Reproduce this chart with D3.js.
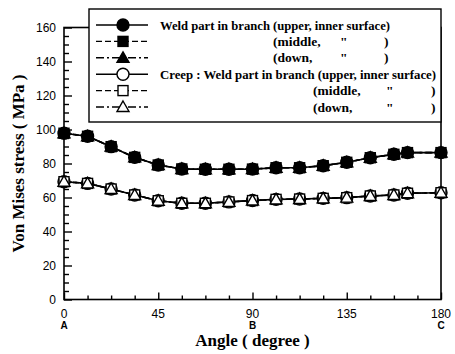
<!DOCTYPE html>
<html>
<head>
<meta charset="utf-8">
<script src="https://cdn.jsdelivr.net/npm/d3@7"></script>
<style>
  body { margin: 0; background: #fff; }
  svg { display: block; }
</style>
</head>
<body>
<svg id="chart" width="455" height="354"></svg>
<script>
// data
const angles = [0, 11.25, 22.5, 33.75, 45, 56.25, 67.5, 78.75, 90, 101.25, 112.5, 123.75, 135, 146.25, 157.5, 164, 180];
const weldUpper  = [97.8, 96.0, 89.9, 83.6, 79.1, 76.8, 76.6, 76.6, 76.7, 77.5, 77.5, 78.7, 80.7, 83.4, 85.4, 86.4, 86.4];
const weldMiddle = [97.8, 96.0, 89.9, 83.6, 79.1, 76.8, 76.6, 76.6, 76.7, 77.5, 77.5, 78.7, 80.7, 83.4, 85.4, 86.4, 86.4];
const weldDown   = [97.8, 96.0, 89.9, 83.6, 79.1, 76.8, 76.6, 76.6, 76.7, 77.5, 77.5, 78.7, 80.7, 83.4, 85.4, 86.4, 86.4];
const creepUpper  = [69.3, 68.3, 65.0, 61.5, 58.1, 56.6, 56.6, 57.4, 58.2, 58.9, 59.1, 59.5, 59.9, 60.9, 61.5, 62.5, 62.8];
const creepMiddle = [69.3, 68.3, 65.0, 61.5, 58.1, 56.6, 56.6, 57.4, 58.2, 58.9, 59.1, 59.5, 59.9, 60.9, 61.5, 62.5, 62.8];
const creepDown   = [69.3, 68.3, 65.0, 61.5, 58.1, 56.6, 56.6, 57.4, 58.2, 58.9, 59.1, 59.5, 59.9, 60.9, 61.5, 62.5, 62.8];

const xTickLabels = [0, 45, 90, 135, 180];
const xPointNames = ['A', '', 'B', '', 'C'];
const yTickLabels = [0, 20, 40, 60, 80, 100, 120, 140, 160];

const series = [
  { values: weldUpper,   shape: 'circle',   filled: true,  dash: null },
  { values: weldMiddle,  shape: 'square',   filled: true,  dash: '6,3' },
  { values: weldDown,    shape: 'triangle', filled: true,  dash: '8,3,2,3' },
  { values: creepUpper,  shape: 'circle',   filled: false, dash: null },
  { values: creepMiddle, shape: 'square',   filled: false, dash: '6,3' },
  { values: creepDown,   shape: 'triangle', filled: false, dash: '8,3,2,3' }
];

const svg = d3.select('#chart');
const pLeft = 64, pRight = 441, pTop = 27.5, pBottom = 299.5;

const x = d3.scaleLinear().domain([0, 180]).range([pLeft, pRight]);
const y = d3.scaleLinear().domain([0, 160]).range([pBottom, pTop]);

const tickFont = '"Liberation Sans Narrow", "Arial Narrow", Arial, sans-serif';
const serif = '"Liberation Serif", "Times New Roman", serif';

// frame
svg.append('rect')
  .attr('x', pLeft).attr('y', pTop)
  .attr('width', pRight - pLeft).attr('height', pBottom - pTop)
  .attr('fill', 'none').attr('stroke', '#000').attr('stroke-width', 1.6);

// y axis, ticks pointing inwards
const yAxis = svg.append('g').attr('transform', `translate(${pLeft},0)`);
yAxis.call(d3.axisRight(y).tickValues(d3.range(0, 161, 5)).tickSize(5).tickFormat(''))
  .call(g => g.select('.domain').remove());
yAxis.selectAll('.tick line')
  .attr('stroke-width', 1.4)
  .attr('x2', d => d % 20 === 0 ? 8 : 5);
yAxis.selectAll('.ylab').data(yTickLabels).enter().append('text')
  .attr('x', -8).attr('y', d => y(d) + 4)
  .attr('text-anchor', 'end').attr('fill', '#000')
  .style('font-family', tickFont).style('font-size', '12px')
  .text(d => d);

// x axis
const xAxis = svg.append('g').attr('transform', `translate(0,${pBottom})`);
xAxis.call(d3.axisTop(x).tickValues(d3.range(0, 181, 11.25)).tickSize(4).tickFormat(''))
  .call(g => g.select('.domain').remove());
xAxis.selectAll('.tick line')
  .attr('stroke-width', 1.4)
  .attr('y2', d => d % 45 === 0 ? -7 : -4);
xAxis.selectAll('.xlab').data(xTickLabels).enter().append('text')
  .attr('x', d => x(d)).attr('y', 18)
  .attr('text-anchor', 'middle').attr('fill', '#000')
  .style('font-family', tickFont).style('font-size', '12px')
  .text(d => d);
xAxis.selectAll('.xname').data(xTickLabels).enter().append('text')
  .attr('x', d => x(d)).attr('y', 29)
  .attr('text-anchor', 'middle').attr('fill', '#000')
  .style('font-family', 'Arial, "Liberation Sans", sans-serif')
  .style('font-size', '10px').style('font-weight', 'bold')
  .text((d, i) => xPointNames[i]);

// axis titles
svg.append('text')
  .attr('x', (pLeft + pRight) / 2).attr('y', 346)
  .attr('text-anchor', 'middle')
  .style('font-family', serif).style('font-size', '17px').style('font-weight', 'bold')
  .text('Angle ( degree )');
svg.append('text')
  .attr('transform', `translate(24,${(pTop + pBottom) / 2}) rotate(-90)`)
  .attr('text-anchor', 'middle')
  .style('font-family', serif).style('font-size', '17px').style('font-weight', 'bold')
  .text('Von Mises stress ( MPa )');

const marker = (g, shape, filled, cx, cy) => {
  const fill = filled ? '#000' : '#fff';
  if (shape === 'circle') {
    g.append('circle').attr('cx', cx).attr('cy', cy).attr('r', 6)
      .attr('fill', fill).attr('stroke', '#000').attr('stroke-width', 1.4);
  } else if (shape === 'square') {
    g.append('rect').attr('x', cx - 5).attr('y', cy - 5).attr('width', 10).attr('height', 10)
      .attr('fill', fill).attr('stroke', '#000').attr('stroke-width', 1.4);
  } else {
    g.append('path').attr('d', `M${cx},${cy - 6}L${cx + 6},${cy + 4.5}L${cx - 6},${cy + 4.5}Z`)
      .attr('fill', fill).attr('stroke', '#000').attr('stroke-width', 1.4);
  }
};

// lines
const line = d3.line().x(d => x(d[0])).y(d => y(d[1]));
const plot = svg.append('g');
series.forEach(s => {
  plot.append('path')
    .datum(angles.map((a, i) => [a, s.values[i]]))
    .attr('d', line)
    .attr('fill', 'none').attr('stroke', '#000').attr('stroke-width', 1.6)
    .attr('stroke-dasharray', s.dash);
});
series.forEach(s => {
  angles.forEach((a, i) => marker(plot, s.shape, s.filled, x(a), y(s.values[i])));
});

// legend
const legend = svg.append('g');
legend.append('rect')
  .attr('x', 89).attr('y', 9).attr('width', pRight - 89).attr('height', 113)
  .attr('fill', '#fff').attr('stroke', '#000').attr('stroke-width', 1.4);

// [x, text, width to fit]
const legendText = [
  [[160, 'Weld part in branch (upper, inner surface)', 230]],
  [[273, '(middle,'], [340, '"'], [384, ')']],
  [[273, '(down,'], [340, '"'], [384, ')']],
  [[160, 'Creep : Weld part in branch (upper, inner surface)', 276]],
  [[313, '(middle,'], [386, '"'], [431, ')']],
  [[313, '(down,'], [386, '"'], [431, ')']]
];

series.forEach((s, i) => {
  const cy = 25 + i * 16.4;
  legend.append('line')
    .attr('x1', 96).attr('x2', 148).attr('y1', cy).attr('y2', cy)
    .attr('stroke', '#000').attr('stroke-width', 1.4)
    .attr('stroke-dasharray', s.dash);
  marker(legend, s.shape, s.filled, 123, cy);
  legendText[i].forEach(t => {
    const txt = legend.append('text')
      .attr('x', t[0]).attr('y', cy + 4.5)
      .style('font-family', serif).style('font-size', '13.5px').style('font-weight', 'bold')
      .text(t[1]);
    if (t[2]) txt.attr('textLength', t[2]).attr('lengthAdjust', 'spacingAndGlyphs');
  });
});
</script>
</body>
</html>
